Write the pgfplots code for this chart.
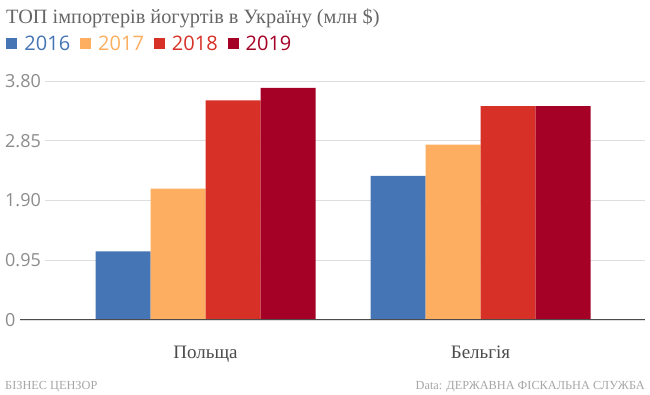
\documentclass[border=0pt]{standalone}
\usepackage{pgfplots}
\pgfplotsset{compat=1.18}
\usepackage{fontspec}
\setmainfont{Liberation Serif}
\newfontfamily\sans{Open Sans}
\definecolor{c16}{HTML}{4575B4}
\definecolor{c17}{HTML}{FDAE61}
\definecolor{c18}{HTML}{D73027}
\definecolor{c19}{HTML}{A50026}
\pgfplotsset{sqlegend/.style={legend image code/.code={\path[##1,draw=none] (0pt,-5.5pt) rectangle (11pt,5.5pt);}}}
\begin{document}
\begin{tikzpicture}[x=1pt,y=1pt]
\useasboundingbox (0,0) rectangle (650,395);
\node[anchor=base west, inner sep=0, text=black!60, font=\fontsize{20.3}{24}\selectfont] at (6,371) {ТОП імпортерів йогуртів в Україну (млн \$)};
\node[anchor=base west, inner sep=0, text=black!35, font=\fontsize{12.3}{14}\selectfont] at (5,5.5) {БІЗНЕС ЦЕНЗОР};
\node[anchor=base east, inner sep=0, text=black!35, font=\fontsize{12.3}{14}\selectfont] at (645,5.5) {Data: ДЕРЖАВНА ФІСКАЛЬНА СЛУЖБА};
\begin{axis}[
  at={(20pt,75pt)}, anchor=south west,
  scale only axis, width=625pt, height=239pt,
  xmin=-0.6745, xmax=1.598, ymin=0, ymax=3.8,
  ybar=0pt, bar width=55pt,
  axis line style={draw=none},
  major tick length=0pt,
  xtick={0,1}, xticklabels={Польща, Бельгія},
  ytick={0,0.95,1.90,2.85,3.80},
  yticklabels={0,0.95,1.90,2.85,3.80},
  ymajorgrids, grid style={draw=black!13, line width=0.9pt},
  yticklabel style={anchor=west, xshift=-19pt, fill=white, inner xsep=4pt, font=\sans\fontsize{18}{20}\selectfont, text=black!45},
  xticklabel style={anchor=base, yshift=-39pt, font=\fontsize{19}{22}\selectfont, text=black!70},
  legend style={at={(axis description cs:-0.022,1.155)}, anchor=west, draw=none, fill=none, inner sep=0pt,
    font=\sans\fontsize{20}{22}\selectfont,
    /tikz/every odd column/.append style={column sep=5pt},
    /tikz/every even column/.append style={column sep=8pt}},
  legend columns=4,
  legend cell align=left,
]
\addplot[fill=c16, draw=none, sqlegend] coordinates {(0,1.09) (1,2.29)};
\addplot[fill=c17, draw=none, sqlegend] coordinates {(0,2.09) (1,2.79)};
\addplot[fill=c18, draw=none, sqlegend] coordinates {(0,3.49) (1,3.40)};
\addplot[fill=c19, draw=none, sqlegend] coordinates {(0,3.69) (1,3.40)};
\legend{\textcolor{c16}{2016},\textcolor{c17}{2017},\textcolor{c18}{2018},\textcolor{c19}{2019}}
\draw[black!70, line width=1pt] (axis cs:-0.6745,0) -- (axis cs:1.598,0);
\draw[black!20, line width=0.8pt] (axis cs:0,0) -- ([yshift=-17pt]axis cs:0,0);
\draw[black!20, line width=0.8pt] (axis cs:1,0) -- ([yshift=-17pt]axis cs:1,0);
\end{axis}
\end{tikzpicture}
\end{document}
